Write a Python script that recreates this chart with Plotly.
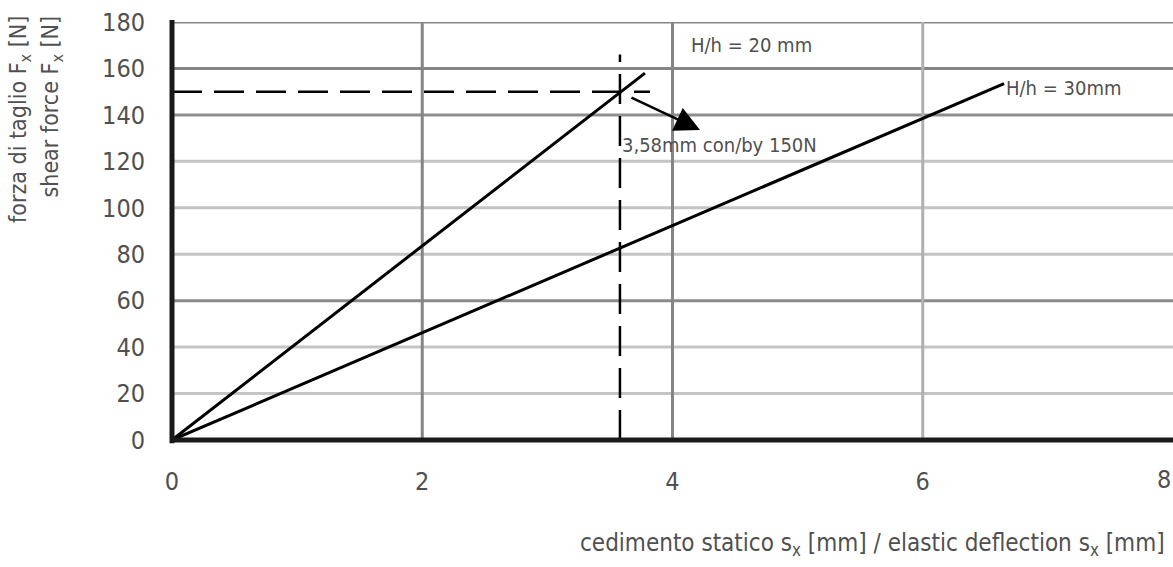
import plotly.graph_objects as go

# Shear force vs. elastic deflection for two rubber heights
deflection_20 = [0, 3.78]
force_20 = [0, 158]
deflection_30 = [0, 6.65]
force_30 = [0, 153.5]

# Reference reading at 150 N
ref_deflection = 3.58
ref_force = 150
ref_hline_end = 3.82
ref_vline_top = 166

x_ticks = [0, 2, 4, 6, 8]
y_ticks = [0, 20, 40, 60, 80, 100, 120, 140, 160, 180]
y_grid_shade = {20: "#c4c4c4", 40: "#c4c4c4", 60: "#8a8a8a", 80: "#c4c4c4",
                100: "#c4c4c4", 120: "#c4c4c4", 140: "#8e8e8e", 160: "#858585",
                180: "#858585"}
x_grid_shade = {2: "#858585", 4: "#858585", 6: "#b0b0b0"}

FONT = "DejaVu Sans Condensed, Liberation Sans Narrow, sans-serif"
TXT = "#505050"

fig = go.Figure()

# grid lines
for yv in y_ticks[1:]:
    fig.add_shape(type="line", xref="paper", x0=0, x1=1, yref="y", y0=yv, y1=yv,
                  line=dict(color=y_grid_shade[yv], width=3), layer="below")
for xv in x_ticks[1:-1]:
    fig.add_shape(type="line", xref="x", x0=xv, x1=xv, yref="paper", y0=0, y1=1,
                  line=dict(color=x_grid_shade[xv], width=3), layer="below")

# reference dashed lines
fig.add_trace(go.Scatter(x=[0, ref_hline_end], y=[ref_force, ref_force], mode="lines",
                         line=dict(color="black", width=2.5, dash="30px,12px"),
                         showlegend=False, hoverinfo="skip"))
fig.add_trace(go.Scatter(x=[ref_deflection, ref_deflection], y=[0, ref_vline_top], mode="lines",
                         line=dict(color="black", width=2.5, dash="30px,12px"),
                         showlegend=False, hoverinfo="skip"))

# curves
fig.add_trace(go.Scatter(x=deflection_20, y=force_20, mode="lines",
                         line=dict(color="black", width=3), name="H/h = 20 mm",
                         showlegend=False))
fig.add_trace(go.Scatter(x=deflection_30, y=force_30, mode="lines",
                         line=dict(color="black", width=3), name="H/h = 30 mm",
                         showlegend=False))

# axis borders
fig.add_shape(type="line", xref="paper", x0=0, x1=0, yref="paper", y0=-0.008, y1=1.005,
              line=dict(color="#1a1a1a", width=5))
fig.add_shape(type="line", xref="paper", x0=0, x1=1, yref="paper", y0=0, y1=0,
              line=dict(color="#1a1a1a", width=5))

# last x tick label sits against the right edge of the page
fig.add_annotation(x=1, y=-0.095, xref="paper", yref="paper", xanchor="right",
                   yanchor="middle", text=str(x_ticks[-1]), showarrow=False,
                   font=dict(family=FONT, size=25, color=TXT))

# annotations
fig.add_annotation(x=4.22, y=133.5, ax=3.66, ay=147.7, xref="x", yref="y",
                   axref="x", ayref="y", text="", showarrow=True,
                   arrowhead=2, arrowsize=2, arrowwidth=2.5, arrowcolor="black")
fig.add_annotation(x=3.58, y=127, xref="x", yref="y", xanchor="left", yanchor="middle",
                   text="3,58mm con/by 150N", showarrow=False,
                   font=dict(family=FONT, size=20, color=TXT))
fig.add_annotation(x=4.13, y=170, xref="x", yref="y", xanchor="left", yanchor="middle",
                   text="H/h = 20 mm", showarrow=False,
                   font=dict(family=FONT, size=20, color=TXT))
fig.add_annotation(x=6.65, y=151.5, xref="x", yref="y", xanchor="left", yanchor="middle",
                   text="H/h = 30mm", showarrow=False,
                   font=dict(family=FONT, size=20, color=TXT))

# axis titles
fig.add_annotation(x=0.994, y=-0.25, xref="paper", yref="paper", xanchor="right", yanchor="middle",
                   text="cedimento statico s<sub>x</sub> [mm] / elastic deflection s<sub>x</sub> [mm]",
                   showarrow=False, font=dict(family=FONT, size=24, color=TXT))
fig.add_annotation(x=-0.152, y=1.02, xref="paper", yref="paper", xanchor="center", yanchor="top",
                   text="forza di taglio F<sub>x</sub> [N]", textangle=-90,
                   showarrow=False, font=dict(family=FONT, size=23, color=TXT))
fig.add_annotation(x=-0.12, y=1.02, xref="paper", yref="paper", xanchor="center", yanchor="top",
                   text="shear force F<sub>x</sub> [N]", textangle=-90,
                   showarrow=False, font=dict(family=FONT, size=23, color=TXT))

fig.update_layout(
    width=1173, height=567,
    margin=dict(l=172, r=0, t=22, b=127),
    plot_bgcolor="white", paper_bgcolor="white",
    font=dict(family=FONT, size=25, color=TXT),
    xaxis=dict(range=[0, 8], tickvals=x_ticks, showgrid=False, zeroline=False,
               showline=False, ticks="", ticklabelstandoff=24, fixedrange=True),
    yaxis=dict(range=[0, 180], tickvals=y_ticks, showgrid=False, zeroline=False,
               showline=False, ticks="", ticklabelstandoff=26, fixedrange=True),
)

fig.write_html("out.html")
